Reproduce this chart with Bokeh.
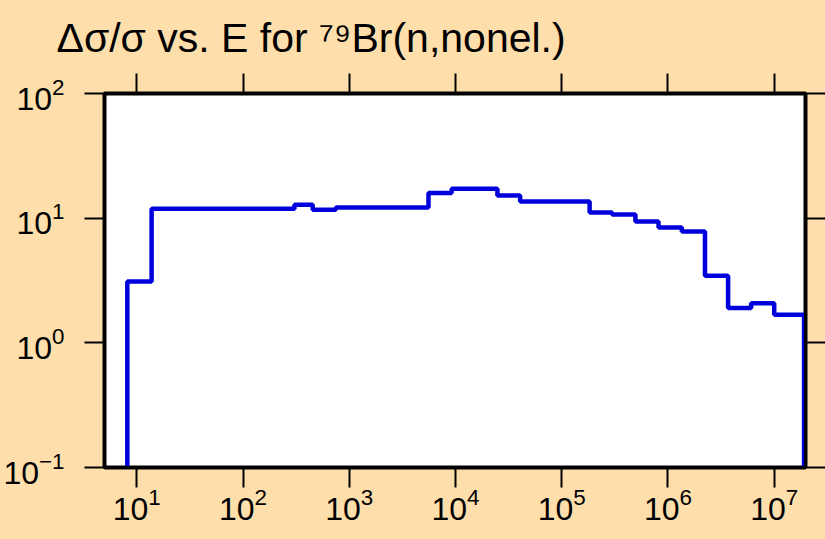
from bokeh.plotting import figure
from bokeh.models import FixedTicker, LogAxis, Title, CustomJSTickFormatter
from bokeh.embed import file_html
from bokeh.resources import INLINE

# ---- data ----
energy_edges = [8.15, 13.8, 149, 305, 453, 748, 1230, 2090, 3370, 5570, 9200,
                24800, 40600, 66100, 109000, 183000, 298000, 494000, 815000,
                1.35e6, 2.23e6, 3.68e6, 6.07e6, 1.0e7, 1.91e7]
rel_unc = [3.1, 11.9, 11.9, 12.8, 11.7, 12.2, 12.2, 12.2, 12.2, 15.9, 17.2,
           15.2, 13.6, 13.6, 13.6, 11.1, 10.7, 9.4, 8.4, 7.8, 3.45, 1.90,
           2.08, 1.68]
x_ticks = [1e1, 1e2, 1e3, 1e4, 1e5, 1e6, 1e7]
y_ticks = [0.1, 1, 10, 100]
title_text = "Δσ/σ vs. E for ⁷⁹Br(n,nonel.)"

BG = "#FEDEAB"
FONT = "Liberation Sans, Arial, sans-serif"

W, H = 825, 539
FL, FR, FT, FB = 102, 808, 93, 467   # frame edges in page pixels

p = figure(width=W, height=H, x_axis_type="log", y_axis_type="log",
           x_range=(4.97, 1.97e7), y_range=(0.1, 100),
           output_backend="svg", toolbar_location=None,
           min_border_left=FL, min_border_right=W - FR,
           min_border_top=FT, min_border_bottom=H - FB)
p.background_fill_color = "white"
p.border_fill_color = BG
p.outline_line_color = "black"
p.outline_line_width = 4
p.grid.visible = False

# step line (start and end drop below the frame)
xs = [energy_edges[0]] + energy_edges
ys = [0.01] + rel_unc + [0.01]
p.step(xs, ys, mode="after", line_color="#0000DC", line_width=4.5)

def style_axis(ax, ticks, labels=True):
    ax.ticker = FixedTicker(ticks=ticks)
    ax.minor_tick_line_color = None
    ax.major_tick_in = 0
    ax.major_tick_out = 20
    ax.major_tick_line_width = 2
    ax.major_tick_line_color = "black"
    ax.axis_line_width = 3
    ax.axis_line_color = "black"
    ax.major_label_text_font = FONT
    ax.major_label_text_font_size = "32px"
    ax.major_label_text_color = "black"
    if not labels:
        ax.formatter = CustomJSTickFormatter(code="return ''")
        ax.major_label_text_font_size = "1px"
        ax.major_label_standoff = 0

style_axis(p.xaxis[0], x_ticks)
style_axis(p.yaxis[0], y_ticks)
p.xaxis[0].major_label_standoff = 0
p.yaxis[0].major_label_standoff = 20

top = LogAxis()
style_axis(top, x_ticks, labels=False)
p.add_layout(top, "above")
right = LogAxis()
style_axis(right, y_ticks, labels=False)
p.add_layout(right, "right")

p.add_layout(Title(text=title_text, align="left", offset=54 - FL, standoff=25,
                   text_font=FONT, text_font_size="41px",
                   text_font_style="normal", text_color="black"), "above")

html = file_html(p, INLINE)
html = html.replace("</head>", "<style>html,body{margin:0;padding:0;background:%s;}</style></head>" % BG, 1)
open("out.html", "w").write(html)
